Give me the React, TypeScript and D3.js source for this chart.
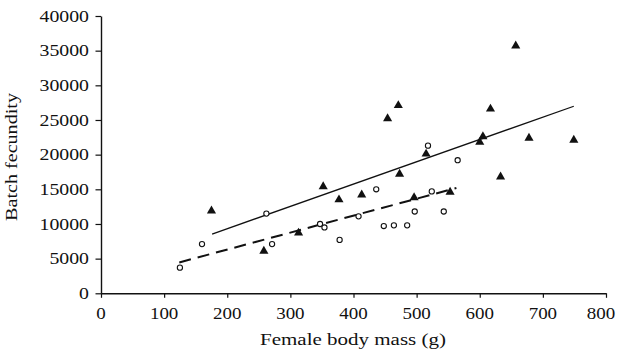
import React, { useEffect, useRef } from 'react';
import * as d3 from 'd3';

// filled triangles
const triMass = [175, 258, 313, 352, 377, 413, 454, 471, 473, 496, 515, 553, 600, 605, 617, 633, 657, 678, 749];
const triFec = [11900, 6100, 8700, 15400, 13500, 14200, 25200, 27100, 17200, 13800, 20100, 14600, 21800, 22600, 26600, 16800, 35700, 22400, 22100];

// open circles
const circMass = [125, 160, 262, 271, 347, 354, 378, 408, 436, 448, 464, 485, 497, 518, 524, 543, 565];
const circFec = [3700, 7100, 11500, 7100, 10000, 9500, 7700, 11100, 15000, 9700, 9800, 9800, 11800, 21300, 14700, 11800, 19200];

// fitted lines (start / end)
const solidLineX = [176, 749];
const solidLineY = [8550, 26980];
const dashLineX = [124, 563];
const dashLineY = [4450, 15190];

const xTicks = [0, 100, 200, 300, 400, 500, 600, 700, 800];
const yTicks = [0, 5000, 10000, 15000, 20000, 25000, 30000, 35000, 40000];

const FONT = '"Liberation Serif", "Times New Roman", serif';

const App = () => {
    const svgRef = useRef(null);

    useEffect(() => {
        const svg = d3.select(svgRef.current);
        svg.selectAll('*').remove();

        const x = d3.scaleLinear().domain([0, 800]).range([101, 606]);
        const y = d3.scaleLinear().domain([0, 40000]).range([293.3, 16]);

        // axes lines and ticks
        const xAxis = svg.append('g')
            .attr('transform', 'translate(0,' + y(0) + ')')
            .call(d3.axisBottom(x).tickValues(xTicks).tickSize(4.5).tickSizeOuter(0).tickFormat(() => ''));
        const yAxis = svg.append('g')
            .attr('transform', 'translate(' + x(0) + ',0)')
            .call(d3.axisLeft(y).tickValues(yTicks).tickSize(5.5).tickSizeOuter(0).tickFormat(() => ''));
        [xAxis, yAxis].forEach(a => {
            a.select('.domain').attr('stroke', '#111').attr('stroke-width', 1.4);
            a.selectAll('.tick line').attr('stroke', '#111').attr('stroke-width', 1.2);
        });

        // tick labels (text is stretched a bit horizontally in the original)
        svg.append('g').selectAll('text')
            .data(yTicks)
            .enter().append('text')
            .attr('transform', d => 'translate(89,' + y(d) + ') scale(1.2,1)')
            .attr('dy', '0.34em')
            .attr('text-anchor', 'end')
            .attr('font-family', FONT)
            .attr('font-size', 16.5)
            .attr('fill', '#111')
            .text(d => d);

        svg.append('g').selectAll('text')
            .data(xTicks)
            .enter().append('text')
            .attr('transform', d => 'translate(' + Math.min(x(d), 601) + ',319) scale(1.15,1)')
            .attr('text-anchor', 'middle')
            .attr('font-family', FONT)
            .attr('font-size', 16.5)
            .attr('fill', '#111')
            .text(d => d);

        // axis titles
        svg.append('text')
            .attr('transform', 'translate(353,345) scale(1.2,1)')
            .attr('text-anchor', 'middle')
            .attr('font-family', FONT)
            .attr('font-size', 17.5)
            .attr('fill', '#111')
            .text('Female body mass (g)');

        svg.append('text')
            .attr('transform', 'translate(17,157) rotate(-90) scale(1.15,1)')
            .attr('text-anchor', 'middle')
            .attr('font-family', FONT)
            .attr('font-size', 17.5)
            .attr('fill', '#111')
            .text('Batch fecundity');

        // fitted lines
        const line = d3.line().x(d => x(d[0])).y(d => y(d[1]));
        svg.append('path')
            .attr('d', line(d3.zip(solidLineX, solidLineY)))
            .attr('fill', 'none')
            .attr('stroke', '#111')
            .attr('stroke-width', 1.3);
        svg.append('path')
            .attr('d', line(d3.zip(dashLineX, dashLineY)))
            .attr('fill', 'none')
            .attr('stroke', '#111')
            .attr('stroke-width', 2)
            .attr('stroke-dasharray', '12,7');

        // circles
        svg.append('g').selectAll('circle')
            .data(d3.zip(circMass, circFec))
            .enter().append('circle')
            .attr('cx', d => x(d[0]))
            .attr('cy', d => y(d[1]))
            .attr('r', 2.6)
            .attr('fill', '#fff')
            .attr('stroke', '#111')
            .attr('stroke-width', 1.1);

        // triangles
        const tri = d3.symbol().type(d3.symbolTriangle).size(36);
        svg.append('g').selectAll('path')
            .data(d3.zip(triMass, triFec))
            .enter().append('path')
            .attr('transform', d => 'translate(' + x(d[0]) + ',' + y(d[1]) + ')')
            .attr('d', tri())
            .attr('fill', '#111');
    }, []);

    return (
        <svg ref={svgRef} width="619" height="352"
             style={{ position: 'absolute', left: 0, top: 0, background: '#fff' }}></svg>
    );
};

export default App;
